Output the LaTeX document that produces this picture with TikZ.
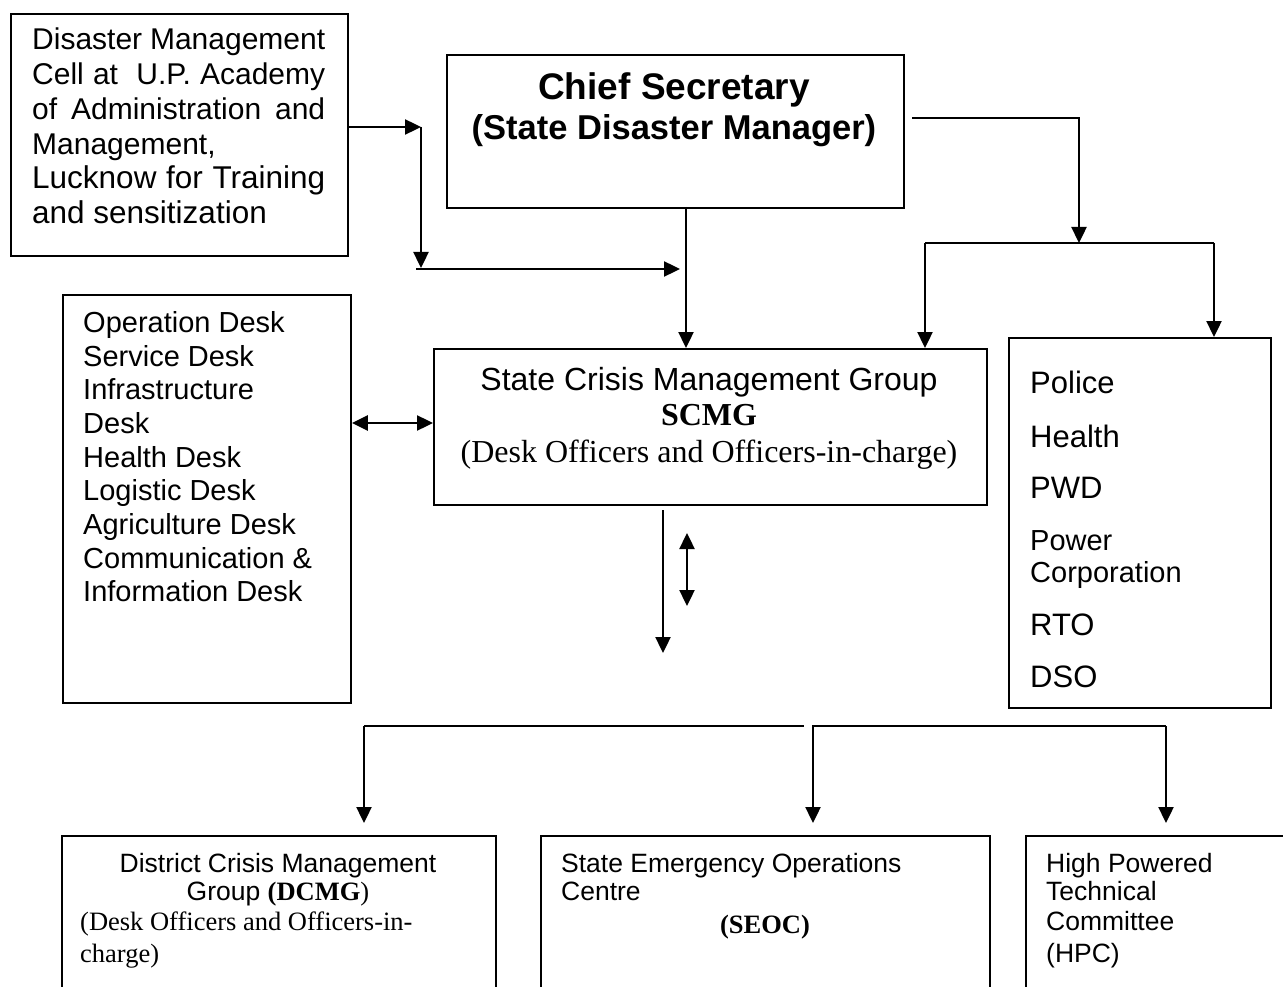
\documentclass[tikz,border=0pt]{standalone}
\usepackage{fontspec}
\setmainfont{Liberation Sans}
\newfontfamily\serifface{Liberation Serif}
\usetikzlibrary{arrows.meta}

\begin{document}
\begin{tikzpicture}[x=1pt,y=-1pt,
  box/.style={draw, line width=1.9pt, inner sep=0pt, anchor=north west},
  txt/.style={inner sep=0pt, anchor=base west},
  ctxt/.style={inner sep=0pt, anchor=base},
  link/.style={line width=2.4pt},
  arr/.style={line width=2.4pt, -{Triangle[length=16pt,width=15pt]}},
  darr/.style={line width=2.4pt, {Triangle[length=16pt,width=15pt]}-{Triangle[length=16pt,width=15pt]}},
  fA/.style={font=\fontsize{30}{36}\selectfont},
  fB/.style={font=\fontsize{31.5}{38}\selectfont},
  fD/.style={font=\fontsize{29}{35}\selectfont},
  fR/.style={font=\fontsize{31}{37}\selectfont},
  fP/.style={font=\fontsize{29}{35}\selectfont},
  fS/.style={font=\fontsize{26.5}{32}\selectfont},
  fT/.style={font=\serifface\fontsize{26.5}{32}\selectfont},
  fC/.style={font=\bfseries\fontsize{34.5}{41}\selectfont},
  fCa/.style={font=\bfseries\fontsize{37}{44}\selectfont},
  fG/.style={font=\fontsize{32}{38}\selectfont},
  fGs/.style={font=\serifface\fontsize{32}{38}\selectfont}]

\useasboundingbox (0,0) rectangle (1283,987);
\clip (0,0) rectangle (1283,987);

% ---------- boxes ----------
\node[box, minimum width=337pt, minimum height=242pt] (dmc) at (10,13) {};
\node[box, minimum width=457pt, minimum height=153pt] (chief) at (446,54) {};
\node[box, minimum width=288pt, minimum height=408pt] (desks) at (62,294) {};
\node[box, minimum width=553pt, minimum height=156pt] (scmg) at (433,348) {};
\node[box, minimum width=262pt, minimum height=370pt] (depts) at (1008,337) {};
\node[box, minimum width=434pt, minimum height=180pt] (dcmg) at (61,835) {};
\node[box, minimum width=449pt, minimum height=180pt] (seoc) at (540,835) {};
\node[box, minimum width=280pt, minimum height=180pt] (hpc) at (1025,835) {};

% ---------- training cell ----------
\node[txt, fA] (d1) at (32,50)  {\makebox[293pt][s]{Disaster Management}};
\node[txt, fA] (d2) at (32,85)  {\makebox[293pt][s]{Cell at \ U.P. Academy}};
\node[txt, fA] (d3) at (32,120) {\makebox[293pt][s]{of Administration and}};
\node[txt, fA] (d4) at (32,155) {Management,};
\node[txt, fB] (d5) at (32,189) {\makebox[293pt][s]{Lucknow for Training}};
\node[txt, fB] (d6) at (32,224) {and sensitization};

% ---------- chief secretary ----------
\node[ctxt, fCa] (c1) at (674,100) {Chief Secretary};
\node[ctxt, fC] (c2) at (674,140) {(State Disaster Manager)};

% ---------- desks ----------
\node[txt, fD] (k1) at (83,332) {Operation Desk};
\node[txt, fD] (k2) at (83,366) {Service Desk};
\node[txt, fD] (k3) at (83,399) {Infrastructure};
\node[txt, fD] (k4) at (83,433) {Desk};
\node[txt, fD] (k5) at (83,467) {Health Desk};
\node[txt, fD] (k6) at (83,500) {Logistic Desk};
\node[txt, fD] (k7) at (83,534) {Agriculture Desk};
\node[txt, fD] (k8) at (83,568) {Communication \&};
\node[txt, fD] (k9) at (83,601) {Information Desk};

% ---------- SCMG ----------
\node[ctxt, fG] (s1) at (709,390) {State Crisis Management Group};
\node[ctxt, fGs] (s2) at (709,425) {\bfseries SCMG};
\node[ctxt, fGs] (s3) at (709,462) {(Desk Officers and Officers-in-charge)};

% ---------- departments ----------
\node[txt, fR] (p1) at (1030,393) {Police};
\node[txt, fR] (p2) at (1030,447) {Health};
\node[txt, fR] (p3) at (1030,498) {PWD};
\node[txt, fP] (p4) at (1030,550) {Power};
\node[txt, fP] (p5) at (1030,582) {Corporation};
\node[txt, fR] (p6) at (1030,635) {RTO};
\node[txt, fR] (p7) at (1030,687) {DSO};

% ---------- lower boxes ----------
\node[ctxt, fS] (b1) at (278,872) {District Crisis Management};
\node[ctxt, fS] (b2) at (278,900) {Group {\serifface\bfseries(DCMG}{\serifface)}};
\node[txt, fT] (b3) at (80,930) {(Desk Officers and Officers-in-};
\node[txt, fT] (b4) at (80,962) {charge)};

\node[txt, fS] (e1) at (561,872) {State Emergency Operations};
\node[txt, fS] (e2) at (561,900) {Centre};
\node[ctxt, fT] (e3) at (765,933) {\bfseries(SEOC)};

\node[txt, fS] (h1) at (1046,872) {High Powered};
\node[txt, fS] (h2) at (1046,900) {Technical};
\node[txt, fS] (h3) at (1046,930) {Committee};
\node[txt, fS] (h4) at (1046,962) {(HPC)};

% ---------- junction points ----------
\coordinate (ja) at (421,127);
\coordinate (jb) at (421,268);
\coordinate (jc) at (416,269);
\coordinate (jd) at (680,269);
\coordinate (je) at (686,207);
\coordinate (jf) at (912,118);
\coordinate (jg) at (1079,118);
\coordinate (jh) at (1079,243);
\coordinate (ji) at (925,243);
\coordinate (jj) at (1214,243);
\coordinate (jk) at (663,510);
\coordinate (jl) at (663,653);
\coordinate (jm) at (687,533);
\coordinate (jn) at (687,606);
\coordinate (jo) at (364,726);
\coordinate (jp) at (804,726);
\coordinate (jq) at (812,726);
\coordinate (jr) at (1166,726);
\coordinate (js) at (813,726);

% ---------- connectors ----------
\draw[arr] (ja -| dmc.east) -- (ja);
\draw[arr] (ja) -- (jb);
\draw[arr] (jc) -- (jd);
\draw[arr] (je) -- (je |- scmg.north);

\draw[arr] (jf) -- (jg) -- (jh);
\draw[link] (ji) -- (jj);
\draw[arr] (ji) -- (ji |- scmg.north);
\draw[arr] (jj) -- (jj |- depts.north);

\draw[darr] (desks.east |- 0,423) -- (scmg.west |- 0,423);
\draw[arr] (jk) -- (jl);
\draw[darr] (jm) -- (jn);

\draw[line width=1.9pt] (jo) -- (jp);
\draw[line width=1.9pt] (jq) -- (jr);
\draw[arr] (jo) -- (jo |- 0,823);
\draw[arr] (js) -- (js |- 0,823);
\draw[arr] (jr) -- (jr |- 0,823);

\end{tikzpicture}
\end{document}
